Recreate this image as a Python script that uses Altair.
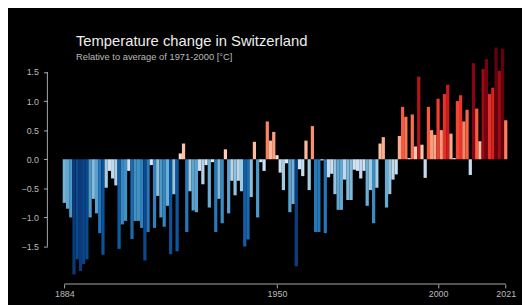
import altair as alt
import pandas as pd

years = list(range(1884, 2022))
anomaly = [
    # 1884-1893
    -0.75, -0.85, -1.00, -1.98, -1.72, -1.92, -1.80, -1.72, -1.00, -0.68,
    # 1894-1903
    -0.93, -1.27, -1.64, -0.49, -0.20, -0.33, -0.45, -1.54, -1.12, -1.06,
    # 1904-1913
    -0.20, -1.37, -1.06, -1.06, -1.18, -1.74, -1.25, -0.10, -1.18, -0.63,
    # 1914-1923
    -1.00, -1.16, -0.80, -1.63, -0.60, -1.58, 0.10, 0.27, -1.25, -0.55,
    # 1924-1933
    -0.88, -0.91, -0.20, -0.43, -0.10, -0.83, -0.05, -1.25, -0.68, -1.10,
    # 1934-1943
    0.17, -0.93, -0.37, -0.62, -0.37, -0.55, -1.50, -1.38, -0.65, 0.30,
    # 1944-1953
    -1.00, -0.05, -0.20, 0.65, 0.32, 0.47, 0.07, -0.23, -0.53, -0.07,
    # 1954-1963
    -0.91, -0.77, -1.84, -0.17, -0.29, 0.32, -0.53, 0.57, -1.25, -1.25,
    # 1964-1973
    -0.02, -1.27, -0.31, -0.25, -0.60, -0.87, -0.87, -0.35, -0.70, -0.70,
    # 1974-1983
    -0.18, -0.20, -0.33, -0.20, -0.80, -0.53, -1.10, -0.49, 0.27, 0.38,
    # 1984-1993
    -0.83, -0.60, -0.35, -0.26, 0.40, 0.90, 0.73, 0.02, 0.77, 0.22,
    # 1994-2003
    1.42, 0.25, -0.32, 0.90, 0.50, 0.42, 1.04, 0.50, 1.12, 1.28,
    # 2004-2013
    0.44, 0.02, 1.00, 1.10, 0.65, 0.85, -0.27, 1.65, 0.87, 0.31,
    # 2014-2021
    1.55, 1.72, 1.12, 1.23, 1.92, 1.52, 1.90, 0.67,
]

tick_years = [1884, 1950, 2000, 2021]
y_ticks = [-1.5, -1.0, -0.5, 0.0, 0.5, 1.0, 1.5]
title_text = "Temperature change in Switzerland"
subtitle_text = "Relative to average of 1971-2000  [°C]"

color_stops = [-1.9, -1.6, -1.3, -1.05, -0.8, -0.55, -0.3, -0.05,
               0.05, 0.3, 0.55, 0.8, 1.05, 1.3, 1.5, 1.8]
color_values = ["#0a3a7a", "#0b559f", "#2171b5", "#4292c6", "#6baed6", "#9ecae1",
                "#c6dbef", "#deebf7", "#fee0d2", "#fcbba1", "#fc9272", "#fb6a4a",
                "#ef3b2c", "#cb181d", "#a50f15", "#67000d"]

df = pd.DataFrame({"year": years, "anomaly": anomaly})

W, H = 482, 278
FONT = "Liberation Sans"
x_scale = alt.Scale(domain=[1878.743, 2026.05], nice=False, zero=False)
y_scale = alt.Scale(domain=[-2.144, 2.560], nice=False, zero=False)

bars = alt.Chart(df).transform_calculate(
    x0="datum.year - 0.5", x1="datum.year + 0.5"
).mark_bar(strokeWidth=0).encode(
    x=alt.X("x0:Q", scale=x_scale, title=None,
            axis=alt.Axis(values=tick_years, format="d", domain=False, grid=False,
                          tickSize=4, tickColor="#aaaaaa", labelColor="#bbbbbb",
                          labelFontSize=9, labelFont=FONT, labelPadding=2,
                          labelFlush=False)),
    x2="x1:Q",
    y=alt.Y("anomaly:Q", scale=y_scale, title=None,
            axis=alt.Axis(values=y_ticks, format=".1f", domain=False, grid=False,
                          tickSize=4, tickColor="#aaaaaa", labelColor="#bbbbbb",
                          labelFontSize=9, labelFont=FONT, labelPadding=5)),
    y2=alt.datum(0),
    color=alt.Color("anomaly:Q", legend=None,
                    scale=alt.Scale(domain=color_stops, range=color_values,
                                    type="linear", clamp=True)),
)

yline = alt.Chart(pd.DataFrame({"a": [y_ticks[-1]], "b": [y_ticks[0]]})).mark_rule(
    color="#aaaaaa", strokeWidth=1
).encode(
    x=alt.value(0),
    y=alt.Y("a:Q", scale=y_scale, title=None),
    y2="b:Q",
)

xline = alt.Chart(pd.DataFrame({"a": [tick_years[0]], "b": [tick_years[-1]]})).mark_rule(
    color="#aaaaaa", strokeWidth=1
).encode(
    x=alt.X("a:Q", scale=x_scale, title=None),
    x2="b:Q",
    y=alt.value(H),
)

title = alt.Chart(pd.DataFrame({"t": [title_text]})).mark_text(
    align="left", baseline="alphabetic", fontSize=15, font=FONT, color="#eeeeee"
).encode(x=alt.value(29), y=alt.value(36.3), text="t:N")

subtitle = alt.Chart(pd.DataFrame({"t": [subtitle_text]})).mark_text(
    align="left", baseline="alphabetic", fontSize=9.5, font=FONT, color="#bbbbbb"
).encode(x=alt.value(29), y=alt.value(50.3), text="t:N")

chart = alt.layer(bars, yline, xline, title, subtitle).properties(
    width=W, height=H,
    autosize=alt.AutoSizeParams(type="none"),
    padding={"left": 40, "top": 0, "right": 0, "bottom": 19},
    background="#000000",
).configure_view(stroke=None)

chart.save("out.html", embed_options={"renderer": "svg", "actions": False})
